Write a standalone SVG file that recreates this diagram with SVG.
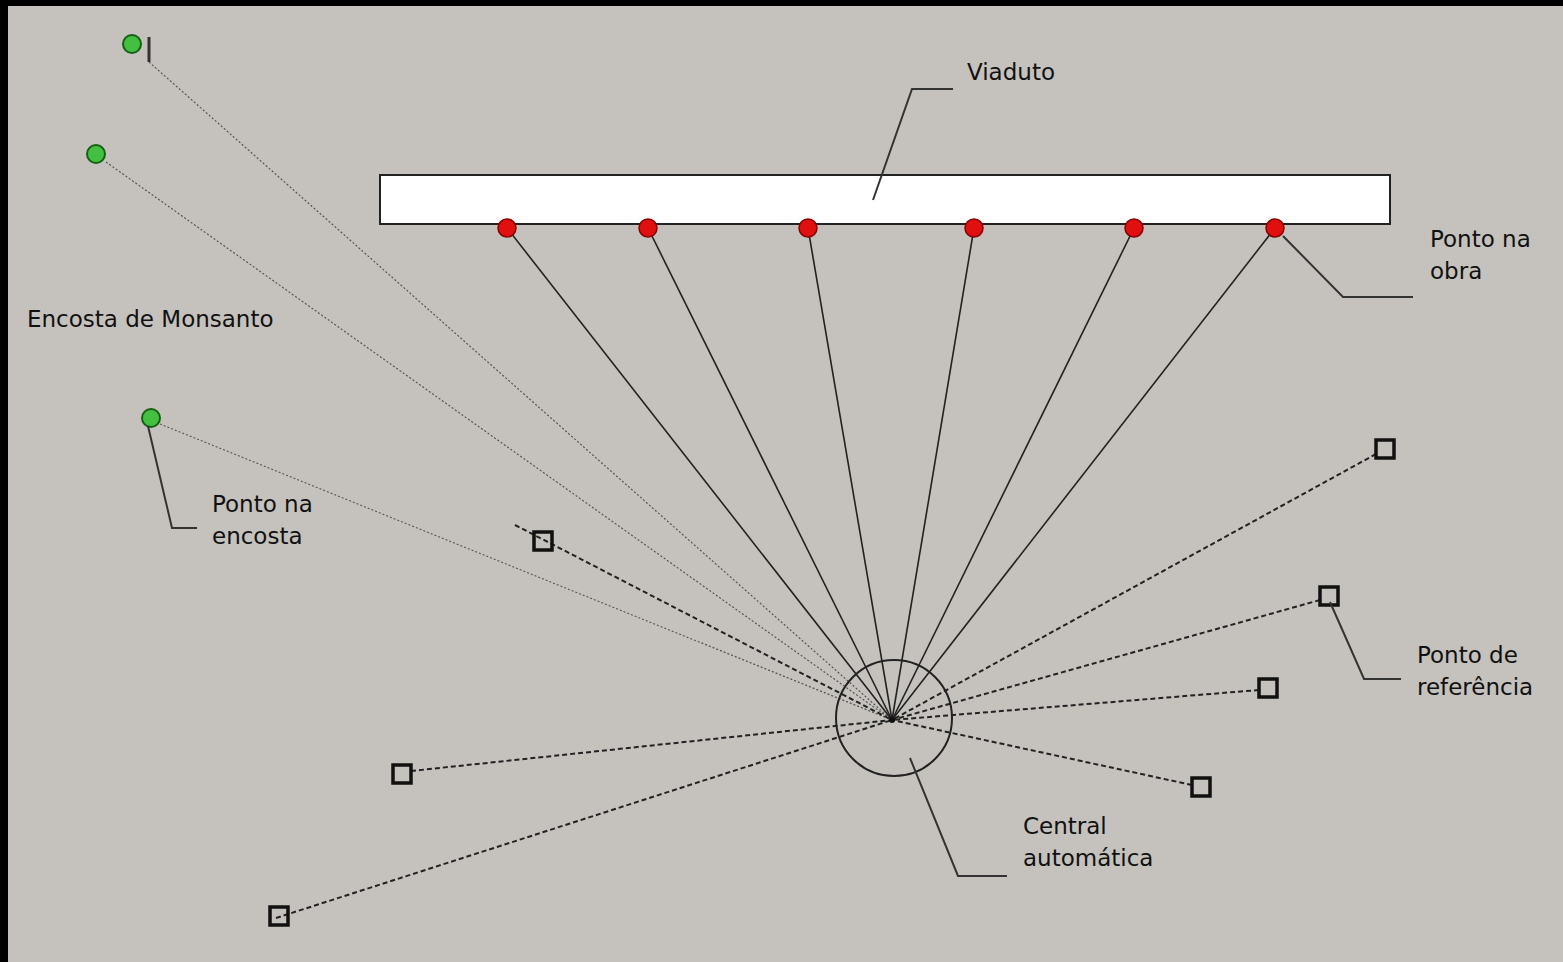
<svg xmlns="http://www.w3.org/2000/svg" width="1563" height="962" viewBox="0 0 1563 962">
<style>
.lbl{font-family:"DejaVu Sans",Verdana,sans-serif;font-size:23px;fill:#111}
.leader{fill:none;stroke:#333;stroke-width:2}
.solid{stroke:#222;stroke-width:1.6}
.dot{stroke:#555;stroke-width:1.2;stroke-dasharray:2 2}
.dash{stroke:#222;stroke-width:2;stroke-dasharray:5 3}
.red{fill:#e01010;stroke:#8a0000;stroke-width:1.5}
.green{fill:#44c040;stroke:#146014;stroke-width:2}
.sq{fill:none;stroke:#111;stroke-width:3.5}
</style>
<rect x="0" y="0" width="1563" height="962" fill="#c5c2be"/>
<rect x="0" y="0" width="1563" height="6" fill="#000"/>
<rect x="0" y="0" width="8" height="962" fill="#000"/>

<g id="connectors">
  <line class="dot" x1="149" y1="62" x2="892" y2="720"/>
  <line class="dot" x1="106" y1="162" x2="892" y2="720"/>
  <line class="dot" x1="160" y1="424" x2="892" y2="720"/>
  <line class="solid" x1="507" y1="228" x2="892" y2="720"/>
  <line class="solid" x1="648" y1="228" x2="892" y2="720"/>
  <line class="solid" x1="808" y1="228" x2="892" y2="720"/>
  <line class="solid" x1="974" y1="228" x2="892" y2="720"/>
  <line class="solid" x1="1134" y1="228" x2="892" y2="720"/>
  <line class="solid" x1="1275" y1="228" x2="892" y2="720"/>
  <line class="dash" x1="515" y1="525" x2="892" y2="720"/>
  <line class="dash" x1="1376" y1="454" x2="892" y2="720"/>
  <line class="dash" x1="1320" y1="600" x2="892" y2="720"/>
  <line class="dash" x1="1259" y1="690" x2="892" y2="720"/>
  <line class="dash" x1="1192" y1="785" x2="892" y2="720"/>
  <line class="dash" x1="411" y1="771" x2="892" y2="720"/>
  <line class="dash" x1="276" y1="918" x2="892" y2="720"/>
</g>

<g id="viaduto">
  <rect x="380" y="175" width="1010" height="49" fill="#fff" stroke="#222" stroke-width="2"/>
  <polyline class="leader" points="873,200 912,89 953,89"/>
  <text class="lbl" x="967" y="80">Viaduto</text>
</g>

<g id="pontos-obra">
  <circle class="red" cx="507" cy="228" r="9"/>
  <circle class="red" cx="648" cy="228" r="9"/>
  <circle class="red" cx="808" cy="228" r="9"/>
  <circle class="red" cx="974" cy="228" r="9"/>
  <circle class="red" cx="1134" cy="228" r="9"/>
  <circle class="red" cx="1275" cy="228" r="9"/>
</g>
<g id="label-obra">
  <polyline class="leader" points="1283,236 1343,297 1413,297"/>
  <text class="lbl" x="1430" y="247">Ponto na</text>
  <text class="lbl" x="1430" y="279">obra</text>
</g>

<g id="pontos-encosta">
  <circle class="green" cx="132" cy="44" r="9"/>
  <line x1="149" y1="37" x2="149" y2="62" stroke="#333" stroke-width="3"/>
  <circle class="green" cx="96" cy="154" r="9"/>
  <circle class="green" cx="151" cy="418" r="9"/>
</g>
<g id="label-monsanto">
  <text class="lbl" x="27" y="327">Encosta de Monsanto</text>
</g>
<g id="label-encosta">
  <polyline class="leader" points="148,426 172,528 197,528"/>
  <text class="lbl" x="212" y="512">Ponto na</text>
  <text class="lbl" x="212" y="544">encosta</text>
</g>

<g id="pontos-referencia">
  <rect class="sq" x="534" y="532" width="18" height="18"/>
  <rect class="sq" x="1376" y="440" width="18" height="18"/>
  <rect class="sq" x="1320" y="587" width="18" height="18"/>
  <rect class="sq" x="1259" y="679" width="18" height="18"/>
  <rect class="sq" x="1192" y="778" width="18" height="18"/>
  <rect class="sq" x="393" y="765" width="18" height="18"/>
  <rect class="sq" x="270" y="907" width="18" height="18"/>
</g>
<g id="label-referencia">
  <polyline class="leader" points="1330,602 1364,679 1401,679"/>
  <text class="lbl" x="1417" y="663">Ponto de</text>
  <text class="lbl" x="1417" y="695">referência</text>
</g>

<g id="central">
  <circle cx="894" cy="718" r="58" fill="none" stroke="#222" stroke-width="2"/>
  <circle cx="892" cy="720" r="3" fill="#111"/>
  <polyline class="leader" points="910,758 958,876 1007,876"/>
  <text class="lbl" x="1023" y="834">Central</text>
  <text class="lbl" x="1023" y="866">automática</text>
</g>
</svg>
